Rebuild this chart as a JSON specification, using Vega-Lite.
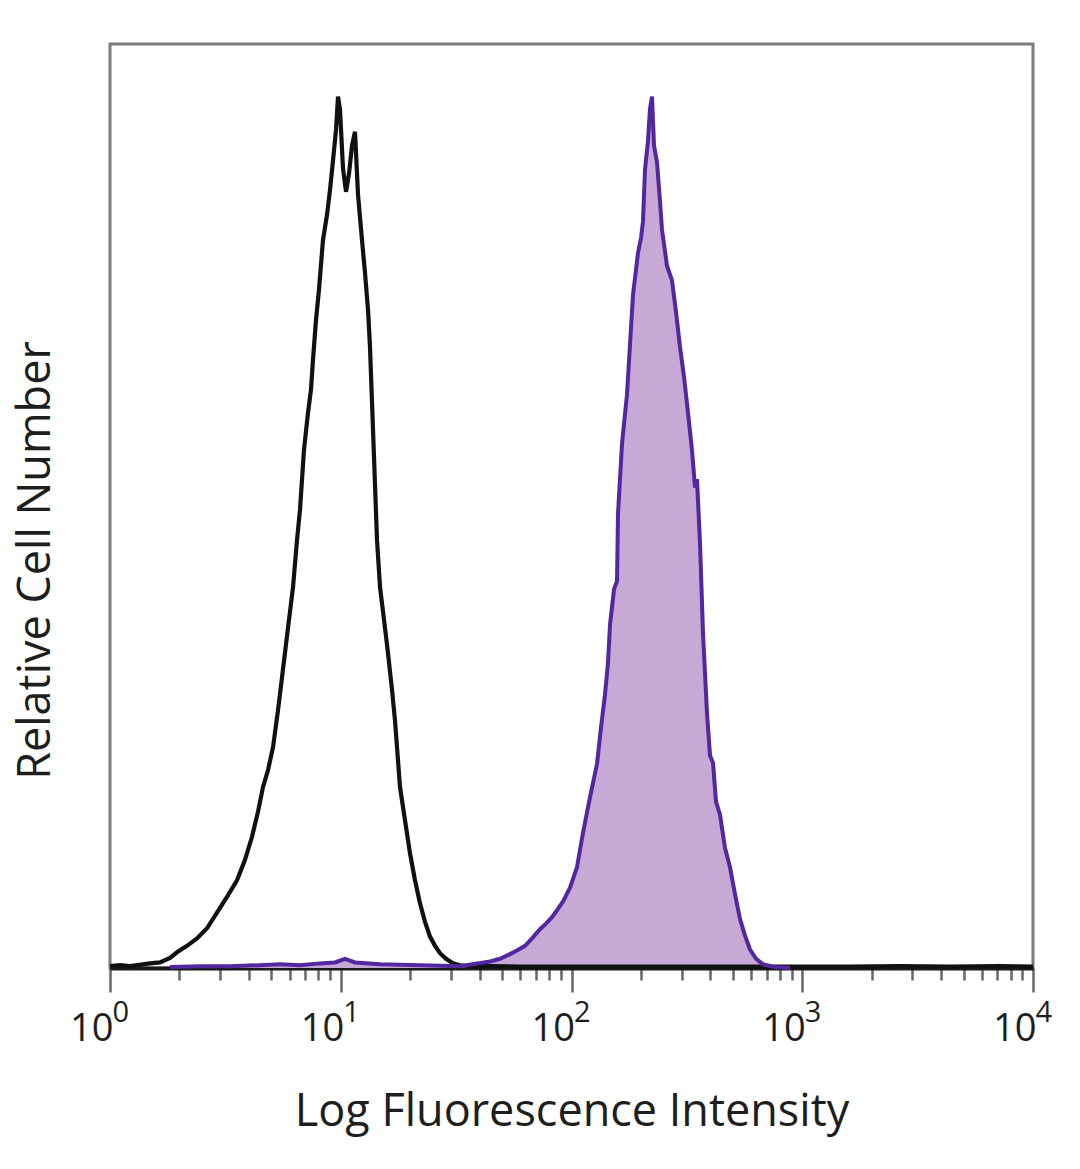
{
  "$schema": "https://vega.github.io/schema/vega-lite/v6.json",
  "width": 923,
  "height": 924,
  "autosize": {"type": "none"},
  "padding": {"left": 110, "top": 44, "right": 47, "bottom": 201},
  "background": "white",
  "config": {
    "view": {"stroke": "#7d7d7d", "strokeWidth": 3},
    "font": "Open Sans"
  },
  "datasets": {
    "isotype": [
      {"fl": 1.0, "count": 0.2}, {"fl": 1.105, "count": 0.3}, {"fl": 1.221, "count": 0.2}, {"fl": 1.39, "count": 0.4},
      {"fl": 1.491, "count": 0.5}, {"fl": 1.647, "count": 0.6}, {"fl": 1.82, "count": 1.1}, {"fl": 1.951, "count": 1.7},
      {"fl": 2.157, "count": 2.4}, {"fl": 2.382, "count": 3.2}, {"fl": 2.633, "count": 4.3}, {"fl": 2.909, "count": 6.0},
      {"fl": 3.214, "count": 7.7}, {"fl": 3.551, "count": 9.5}, {"fl": 3.846, "count": 11.7}, {"fl": 4.125, "count": 14.2},
      {"fl": 4.379, "count": 16.9}, {"fl": 4.604, "count": 19.6}, {"fl": 4.838, "count": 21.4}, {"fl": 5.087, "count": 23.9},
      {"fl": 5.347, "count": 27.9}, {"fl": 5.618, "count": 32.3}, {"fl": 5.907, "count": 36.8}, {"fl": 6.21, "count": 41.2},
      {"fl": 6.463, "count": 46.3}, {"fl": 6.659, "count": 49.6}, {"fl": 6.93, "count": 56.1}, {"fl": 7.213, "count": 60.1},
      {"fl": 7.431, "count": 62.6}, {"fl": 7.579, "count": 65.8}, {"fl": 7.81, "count": 70.1}, {"fl": 8.047, "count": 73.4},
      {"fl": 8.376, "count": 78.8}, {"fl": 8.718, "count": 81.5}, {"fl": 8.983, "count": 84.2}, {"fl": 9.257, "count": 87.4},
      {"fl": 9.537, "count": 90.7}, {"fl": 9.73, "count": 94.3}, {"fl": 9.925, "count": 92.9}, {"fl": 10.23, "count": 86.5},
      {"fl": 10.54, "count": 84.0}, {"fl": 10.86, "count": 86.0}, {"fl": 11.19, "count": 89.0}, {"fl": 11.53, "count": 90.5},
      {"fl": 11.88, "count": 83.7}, {"fl": 12.36, "count": 78.8}, {"fl": 12.74, "count": 75.2}, {"fl": 13.13, "count": 71.2},
      {"fl": 13.39, "count": 67.2}, {"fl": 13.8, "count": 58.2}, {"fl": 14.36, "count": 46.3}, {"fl": 14.8, "count": 41.2},
      {"fl": 15.4, "count": 37.7}, {"fl": 16.02, "count": 34.1}, {"fl": 16.68, "count": 30.1}, {"fl": 17.18, "count": 26.8},
      {"fl": 18.06, "count": 19.6}, {"fl": 18.98, "count": 16.0}, {"fl": 19.96, "count": 12.4}, {"fl": 20.98, "count": 9.5},
      {"fl": 22.05, "count": 7.0}, {"fl": 23.18, "count": 5.0}, {"fl": 24.37, "count": 3.4}, {"fl": 25.62, "count": 2.4},
      {"fl": 26.92, "count": 1.6}, {"fl": 28.58, "count": 1.0}, {"fl": 30.66, "count": 0.5}, {"fl": 32.87, "count": 0.3},
      {"fl": 36.32, "count": 0.2}, {"fl": 44.36, "count": 0.2}, {"fl": 59.83, "count": 0.15}, {"fl": 89.18, "count": 0.15},
      {"fl": 132.9, "count": 0.15}, {"fl": 218.9, "count": 0.15}, {"fl": 360.6, "count": 0.15}, {"fl": 593.8, "count": 0.15},
      {"fl": 977.7, "count": 0.15}, {"fl": 1610, "count": 0.15}, {"fl": 2652, "count": 0.2}, {"fl": 4368, "count": 0.15},
      {"fl": 7194, "count": 0.2}, {"fl": 10000, "count": 0.15}
    ],
    "stained": [
      {"fl": 1.82, "count": 0.1}, {"fl": 2.455, "count": 0.2}, {"fl": 3.311, "count": 0.2}, {"fl": 4.468, "count": 0.3},
      {"fl": 5.453, "count": 0.4}, {"fl": 6.659, "count": 0.3}, {"fl": 8.129, "count": 0.5}, {"fl": 9.443, "count": 0.6},
      {"fl": 10.43, "count": 1.0}, {"fl": 11.53, "count": 0.6}, {"fl": 14.8, "count": 0.4}, {"fl": 22.05, "count": 0.3},
      {"fl": 32.87, "count": 0.2}, {"fl": 44.36, "count": 0.7}, {"fl": 48.98, "count": 1.0}, {"fl": 54.14, "count": 1.5},
      {"fl": 58.04, "count": 1.9}, {"fl": 62.88, "count": 2.4}, {"fl": 67.44, "count": 3.2}, {"fl": 73.03, "count": 4.2},
      {"fl": 77.53, "count": 4.8}, {"fl": 82.31, "count": 5.5}, {"fl": 87.38, "count": 6.4}, {"fl": 91.9, "count": 7.2},
      {"fl": 98.52, "count": 8.7}, {"fl": 105.6, "count": 10.9}, {"fl": 112.1, "count": 14.6}, {"fl": 120.3, "count": 18.5},
      {"fl": 129.0, "count": 22.1}, {"fl": 134.2, "count": 26.0}, {"fl": 139.7, "count": 29.6}, {"fl": 143.9, "count": 33.0},
      {"fl": 146.9, "count": 37.2}, {"fl": 152.9, "count": 41.0}, {"fl": 157.5, "count": 41.9}, {"fl": 159.1, "count": 49.2},
      {"fl": 165.5, "count": 56.7}, {"fl": 174.0, "count": 62.1}, {"fl": 179.3, "count": 67.5}, {"fl": 184.8, "count": 72.9},
      {"fl": 194.2, "count": 77.4}, {"fl": 200.1, "count": 79.0}, {"fl": 204.1, "count": 80.8}, {"fl": 208.2, "count": 86.4},
      {"fl": 214.5, "count": 89.5}, {"fl": 218.9, "count": 93.0}, {"fl": 223.3, "count": 94.3}, {"fl": 227.8, "count": 89.0},
      {"fl": 234.7, "count": 87.2}, {"fl": 241.8, "count": 83.0}, {"fl": 246.7, "count": 79.9}, {"fl": 259.3, "count": 76.0},
      {"fl": 272.6, "count": 74.4}, {"fl": 283.7, "count": 71.0}, {"fl": 295.3, "count": 67.2}, {"fl": 307.3, "count": 64.0},
      {"fl": 319.8, "count": 60.1}, {"fl": 332.9, "count": 56.0}, {"fl": 343.0, "count": 52.0}, {"fl": 349.9, "count": 52.9},
      {"fl": 360.6, "count": 45.9}, {"fl": 371.5, "count": 36.2}, {"fl": 386.7, "count": 27.5}, {"fl": 398.4, "count": 23.0},
      {"fl": 410.5, "count": 22.2}, {"fl": 422.9, "count": 18.0}, {"fl": 440.1, "count": 16.6}, {"fl": 462.6, "count": 13.0},
      {"fl": 486.3, "count": 10.9}, {"fl": 511.2, "count": 8.0}, {"fl": 537.4, "count": 5.3}, {"fl": 564.9, "count": 3.5},
      {"fl": 593.8, "count": 2.0}, {"fl": 630.4, "count": 1.0}, {"fl": 676.0, "count": 0.4}, {"fl": 762.0, "count": 0.1},
      {"fl": 884.9, "count": 0.0}
    ]
  },
  "encoding": {
    "y": {
      "field": "count",
      "type": "quantitative",
      "stack": null,
      "scale": {"domain": [0, 100], "nice": false},
      "axis": {
        "title": "Relative Cell Number",
        "titleFont": "Open Sans",
        "titleFontSize": 45,
        "titleFontWeight": "normal",
        "titleColor": "#1e1e1e",
        "titlePadding": 52,
        "titleY": 516,
        "labels": false,
        "ticks": false,
        "domain": false,
        "grid": false
      }
    }
  },
  "resolve": {"axis": {"x": "independent"}},
  "layer": [
    {
      "data": {"name": "stained"},
      "mark": {"type": "area", "color": "#C6A9D5", "opacity": 1},
      "encoding": {
        "x": {
          "field": "fl",
          "type": "quantitative",
          "scale": {"type": "log", "domain": [1, 10000], "nice": false},
          "axis": {
            "orient": "bottom",
            "values": [1, 2, 3, 4, 5, 6, 7, 8, 9, 10, 20, 30, 40, 50, 60, 70, 80, 90, 100, 200, 300, 400, 500, 600, 700, 800, 900, 1000, 2000, 3000, 4000, 5000, 6000, 7000, 8000, 9000, 10000],
            "labelExpr": "indexof([1, 10, 100, 1000, 10000], datum.value) >= 0 ? '10' : ''",
            "title": "Log Fluorescence Intensity",
            "titleFont": "Open Sans",
            "titleFontSize": 45,
            "titleFontWeight": "normal",
            "titleColor": "#1e1e1e",
            "titlePadding": 41,
            "labelFont": "Open Sans",
            "labelFontSize": 38,
            "labelColor": "#1e1e1e",
            "labelPadding": 18,
            "labelAlign": "right",
            "labelOffset": 3,
            "labelFlush": false,
            "labelOverlap": false,
            "domainColor": "#1a1a1a",
            "domainWidth": 4,
            "tickColor": "#666666",
            "tickWidth": 2.5,
            "tickSize": {"condition": {"test": "indexof([1, 10, 100, 1000, 10000], datum.value) >= 0", "value": 24}, "value": 12},
            "grid": false
          }
        }
      }
    },
    {
      "data": {"name": "isotype"},
      "mark": {"type": "line", "color": "#111111", "strokeWidth": 4.2},
      "encoding": {
        "x": {"field": "fl", "type": "quantitative", "scale": {"type": "log", "domain": [1, 10000], "nice": false}, "axis": null}
      }
    },
    {
      "data": {"name": "stained"},
      "mark": {"type": "line", "color": "#5227A0", "strokeWidth": 4},
      "encoding": {
        "x": {
          "field": "fl",
          "type": "quantitative",
          "scale": {"type": "log", "domain": [1, 10000], "nice": false},
          "axis": {
            "orient": "bottom",
            "values": [1, 10, 100, 1000, 10000],
            "labelExpr": "['0', '1', '2', '3', '4'][round(log(datum.value) / LN10)]",
            "title": null,
            "domain": false,
            "ticks": false,
            "grid": false,
            "labelFont": "Open Sans",
            "labelFontSize": 29,
            "labelColor": "#1e1e1e",
            "labelPadding": 30,
            "labelAlign": "left",
            "labelOffset": 2,
            "labelFlush": false,
            "labelOverlap": false
          }
        }
      }
    }
  ]
}
